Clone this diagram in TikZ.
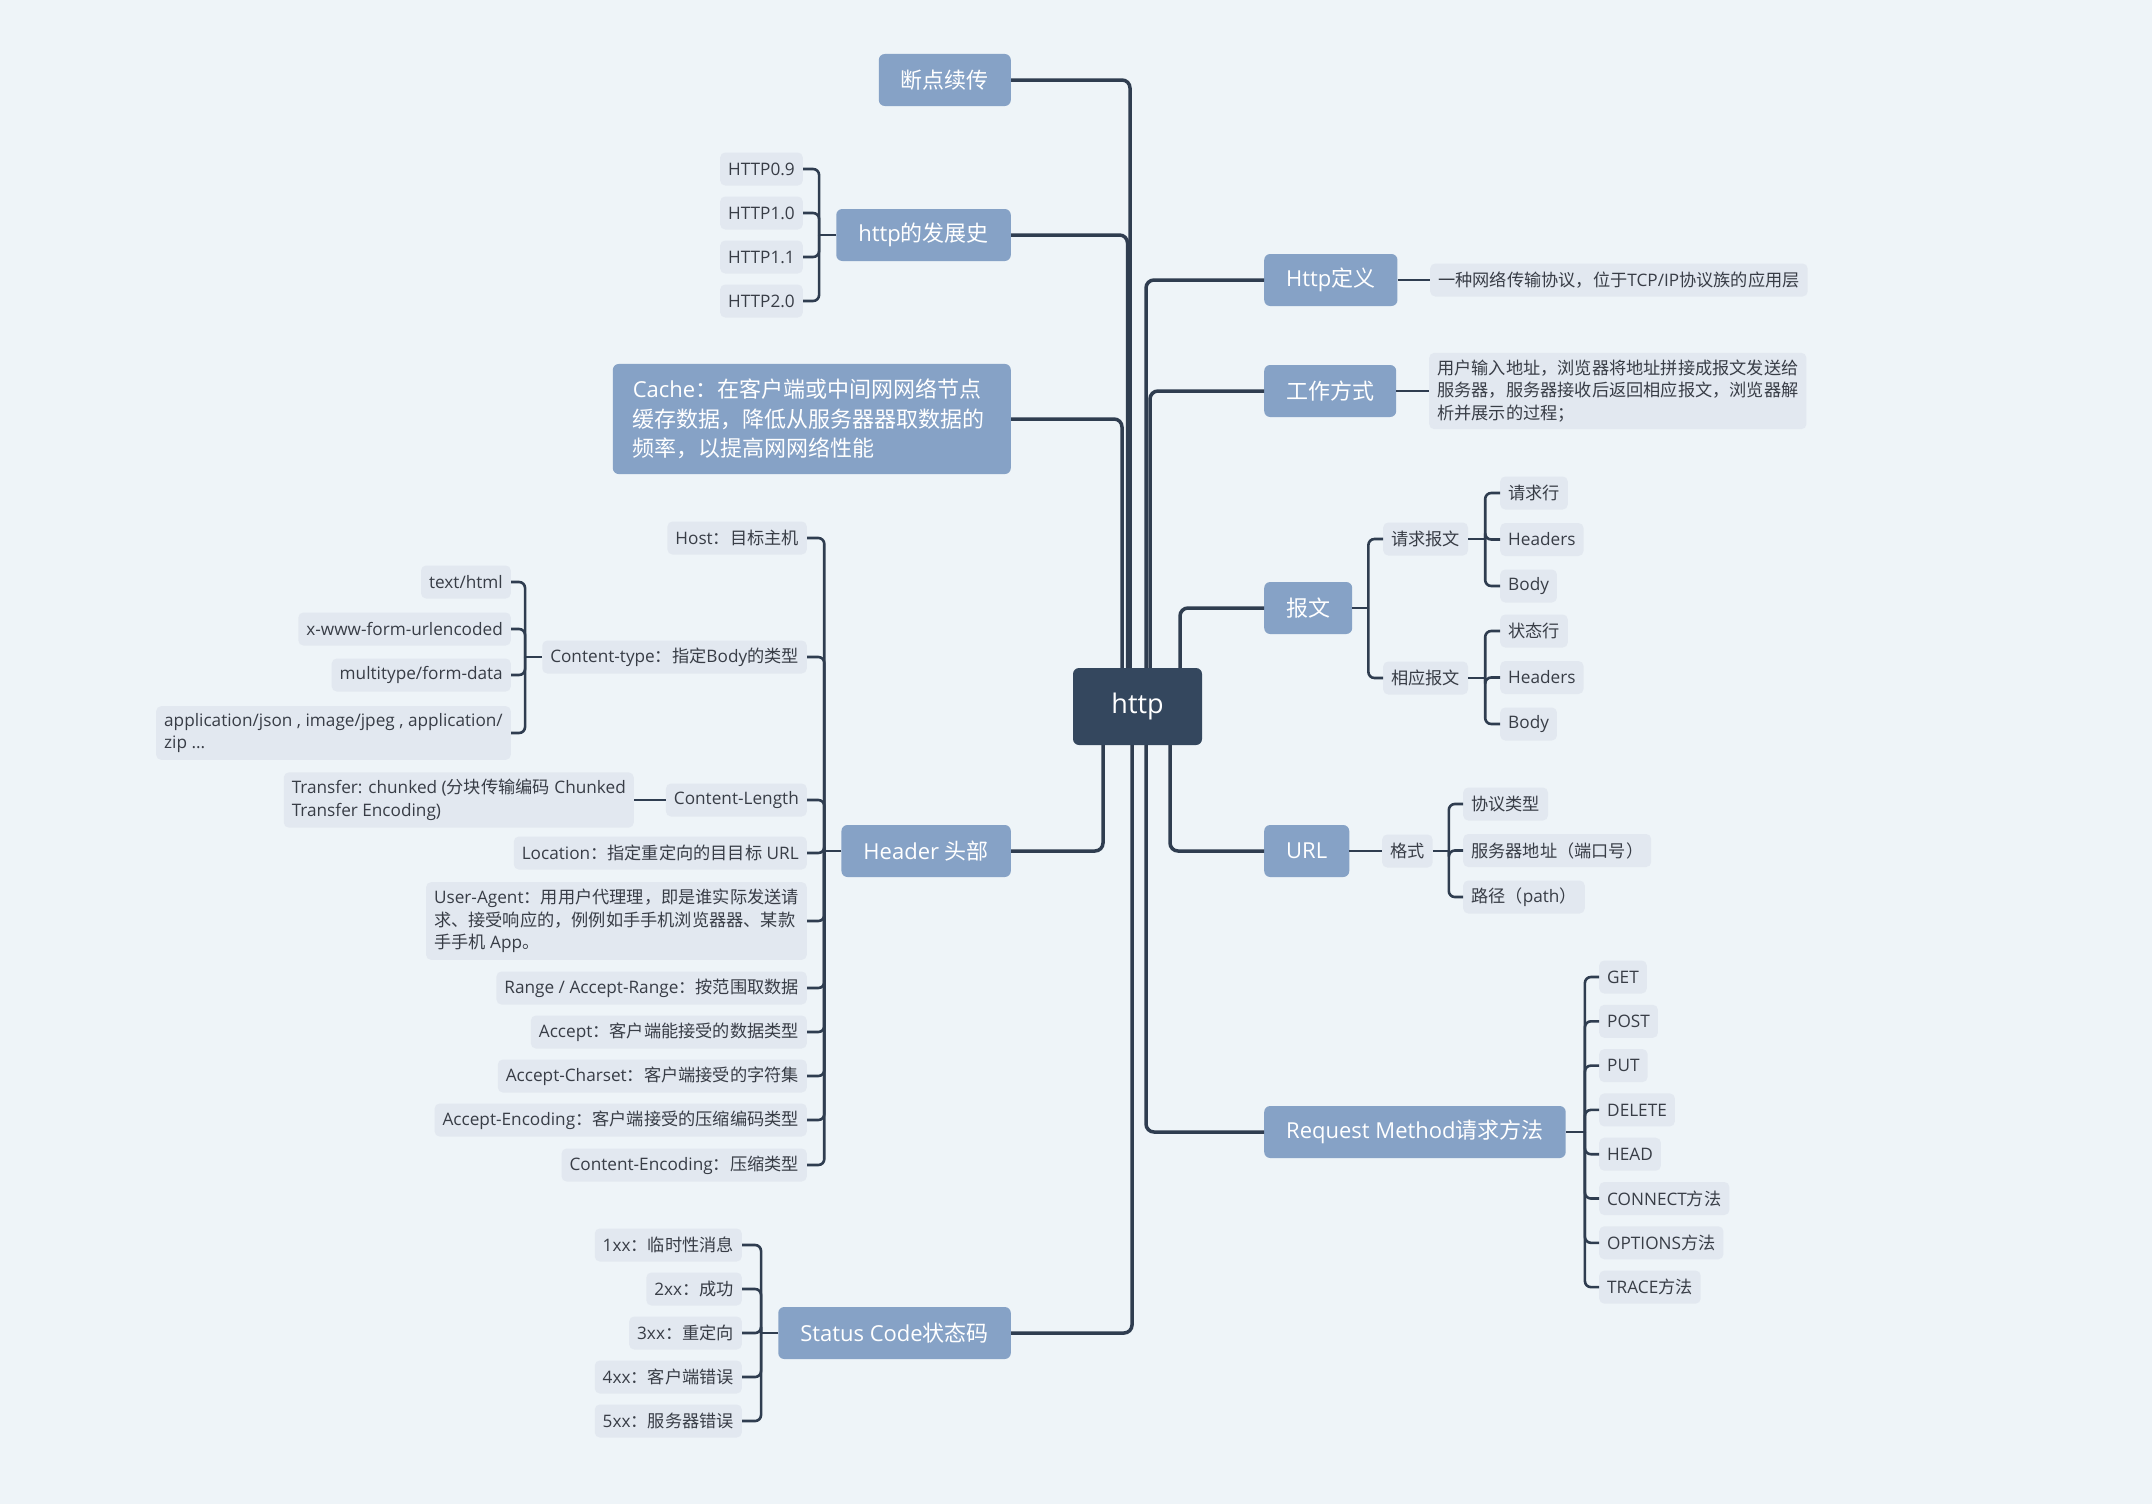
\documentclass[tikz,border=0pt]{standalone}
\usepackage{fontspec}
\setmainfont{Open Sans}
\newfontfamily\zhfont{Noto Sans CJK SC}

% switch to the CJK font for Chinese characters
\XeTeXinterchartokenstate=1
\newXeTeXintercharclass\zhclass
\newcount\zhcnt
\newcommand\zhrange[2]{\zhcnt=#1\relax
  \loop
    \XeTeXcharclass\zhcnt=\zhclass
    \ifnum\zhcnt<#2\relax
    \advance\zhcnt by 1
  \repeat}
\zhrange{"3000}{"303F}
\zhrange{"4E00}{"9FFF}
\zhrange{"FF00}{"FFEF}
\XeTeXinterchartoks 0 \zhclass = {\zhfont}
\XeTeXinterchartoks 4095 \zhclass = {\zhfont}
\XeTeXinterchartoks \zhclass 0 = {\rmfamily}
\XeTeXinterchartoks \zhclass 4095 = {\rmfamily}

\definecolor{bgc}{HTML}{EEF4F8}
\definecolor{rootc}{HTML}{34475E}
\definecolor{topicc}{HTML}{86A2C6}
\definecolor{leafc}{HTML}{E2E8F0}
\definecolor{linec}{HTML}{2F3D50}
\definecolor{textc}{HTML}{383D46}

\tikzset{
    rootbox/.style={fill=rootc,text=white,rounded corners=6pt,minimum width=129pt,minimum height=77pt,font=\fontsize{27}{32}\selectfont},
    topicbox/.style={fill=topicc,text=white,rounded corners=6pt,minimum height=52pt,inner xsep=22pt,font=\fontsize{22}{29.5}\selectfont},
    leafbox/.style={fill=leafc,text=textc,rounded corners=5pt,minimum height=33pt,inner xsep=8pt,inner ysep=7pt,font=\fontsize{17.2}{22.5}\selectfont},
    branch/.style={draw=linec,line width=3.5pt,rounded corners=8pt},
    twig/.style={draw=linec,line width=2.6pt,rounded corners=6pt}
}

\begin{document}
\begin{tikzpicture}[x=1pt,y=-1pt]
        \useasboundingbox (0,0) rectangle (2152,1504);
        \fill[bgc] (0,0) rectangle (2152,1504);

        % root
        \node[rootbox] (http) at (1137.5,706.5) {http};

        % left topics
        \node[topicbox,anchor=east] (dld) at (1011,80) {断点续传};
        \node[topicbox,anchor=east] (fzs) at (1011,235) {http的发展史};
        \node[topicbox,anchor=east,text width=358pt,align=left,inner xsep=20pt,inner ysep=15pt] (cache) at (1011,419) {Cache：在客户端或中间网网络节点\\缓存数据，降低从服务器器取数据的\\频率，以提高网网络性能};
        \node[topicbox,anchor=east] (hdr) at (1011,851) {Header 头部};
        \node[topicbox,anchor=east] (sc) at (1011,1333) {Status Code状态码};

        % right topics
        \node[topicbox,anchor=west] (def) at (1264,280) {Http定义};
        \node[topicbox,anchor=west] (gzfs) at (1264,391) {工作方式};
        \node[topicbox,anchor=west] (bw) at (1264,608) {报文};
        \node[topicbox,anchor=west] (url) at (1264,851) {URL};
        \node[topicbox,anchor=west] (rm) at (1264,1132) {Request Method请求方法};

        % branches from the root
        \draw[branch] ([xshift=-7.5pt]http.north) |- (dld.east);
        \draw[branch] ([xshift=-10pt]http.north) |- (fzs.east);
        \draw[branch] ([xshift=-15.5pt]http.north) |- (cache.east);
        \draw[branch] ([xshift=-34.5pt]http.south) |- (hdr.east);
        \draw[branch] ([xshift=-5.5pt]http.south) |- (sc.east);
        \draw[branch] ([xshift=8.5pt]http.north) |- (def.west);
        \draw[branch] ([xshift=12.5pt]http.north) |- (gzfs.west);
        \draw[branch] ([xshift=42.5pt]http.north) |- (bw.west);
        \draw[branch] ([xshift=32.5pt]http.south) |- (url.west);
        \draw[branch] ([xshift=8.5pt]http.south) |- (rm.west);

        % http versions
        \foreach \v [count=\i] in {HTTP0.9,HTTP1.0,HTTP1.1,HTTP2.0}
            \node[leafbox,anchor=east] (ver\i) at (803,{169+44*(\i-1)}) {\v};
        \coordinate (fzsj) at ([xshift=-17pt]fzs.west);
        \draw[twig] (fzs.west) -- (fzsj);
        \foreach \i in {1,...,4}
            \draw[twig] (fzsj) |- (ver\i.east);

        % header fields
        \node[leafbox,anchor=east] (host) at (807,538) {Host：目标主机};
        \node[leafbox,anchor=east] (ctype) at (807,657) {Content-type：指定Body的类型};
        \node[leafbox,anchor=east] (clen) at (807,800) {Content-Length};
        \node[leafbox,anchor=east] (loc) at (807,853) {Location：指定重定向的目目标 URL};
        \node[leafbox,anchor=east,align=left] (ua) at (807,921) {User-Agent：用用户代理理，即是谁实际发送请\\求、接受响应的，例例如手手机浏览器器、某款\\手手机 App。};
        \node[leafbox,anchor=east] (rng) at (807,988) {Range / Accept-Range：按范围取数据};
        \node[leafbox,anchor=east] (acc) at (807,1032) {Accept：客户端能接受的数据类型};
        \node[leafbox,anchor=east] (accs) at (807,1076) {Accept-Charset：客户端接受的字符集};
        \node[leafbox,anchor=east] (acce) at (807,1120) {Accept-Encoding：客户端接受的压缩编码类型};
        \node[leafbox,anchor=east] (cenc) at (807,1165) {Content-Encoding：压缩类型};
        \coordinate (hdrj) at ([xshift=-17pt]hdr.west);
        \draw[twig] (hdr.west) -- (hdrj);
        \foreach \n in {host,ctype,clen,loc,ua,rng,acc,accs,acce,cenc}
            \draw[twig] (hdrj) |- (\n.east);

        % content types
        \node[leafbox,anchor=east] (ct1) at (511,582) {text/html};
        \node[leafbox,anchor=east] (ct2) at (511,629) {x-www-form-urlencoded};
        \node[leafbox,anchor=east] (ct3) at (511,675) {multitype/form-data};
        \node[leafbox,anchor=east,align=left] (ct4) at (511,733) {application/json , image/jpeg , application/\\zip ...};
        \coordinate (ctypej) at ([xshift=-17pt]ctype.west);
        \draw[twig] (ctype.west) -- (ctypej);
        \foreach \i in {1,...,4}
            \draw[twig] (ctypej) |- (ct\i.east);

        \node[leafbox,anchor=east,align=left] (trans) at (634,800) {Transfer: chunked (分块传输编码 Chunked\\Transfer Encoding)};
        \draw[twig] (clen.west) -- (trans.east);

        % status codes
        \foreach \s [count=\i] in {1xx：临时性消息,2xx：成功,3xx：重定向,4xx：客户端错误,5xx：服务器错误}
            \node[leafbox,anchor=east] (st\i) at (742,{1245+44*(\i-1)}) {\s};
        \coordinate (scj) at ([xshift=-17pt]sc.west);
        \draw[twig] (sc.west) -- (scj);
        \foreach \i in {1,...,5}
            \draw[twig] (scj) |- (st\i.east);

        % definition and working
        \node[leafbox,anchor=west] (deftxt) at (1430,280) {一种网络传输协议，位于TCP/IP协议族的应用层};
        \draw[twig] (def.east) -- (deftxt.west);
        \node[leafbox,anchor=west,align=left] (gzfstxt) at (1429,391) {用户输入地址，浏览器将地址拼接成报文发送给\\服务器，服务器接收后返回相应报文，浏览器解\\析并展示的过程；};
        \draw[twig] (gzfs.east) -- (gzfstxt.west);

        % messages
        \node[leafbox,anchor=west] (req) at (1383,539) {请求报文};
        \node[leafbox,anchor=west] (resp) at (1383,678) {相应报文};
        \coordinate (bwj) at ([xshift=16pt]bw.east);
        \draw[twig] (bw.east) -- (bwj);
        \draw[twig] (bwj) |- (req.west);
        \draw[twig] (bwj) |- (resp.west);

        \foreach \p [count=\i] in {请求行,Headers,Body}
            \node[leafbox,anchor=west] (req\i) at (1500,{493+46.5*(\i-1)}) {\p};
        \foreach \p [count=\i] in {状态行,Headers,Body}
            \node[leafbox,anchor=west] (resp\i) at (1500,{631+46.5*(\i-1)}) {\p};
        \coordinate (reqj) at ([xshift=17pt]req.east);
        \coordinate (respj) at ([xshift=17pt]resp.east);
        \draw[twig] (req.east) -- (reqj);
        \draw[twig] (resp.east) -- (respj);
        \foreach \i in {1,2,3} {
            \draw[twig] (reqj) |- (req\i.west);
            \draw[twig] (respj) |- (resp\i.west);
        }

        % url format
        \node[leafbox,anchor=west] (fmt) at (1382,851) {格式};
        \draw[twig] (url.east) -- (fmt.west);
        \foreach \p [count=\i] in {协议类型,服务器地址（端口号）,路径（path）}
            \node[leafbox,anchor=west] (fmt\i) at (1463,{804+46.5*(\i-1)}) {\p};
        \coordinate (fmtj) at ([xshift=16pt]fmt.east);
        \draw[twig] (fmt.east) -- (fmtj);
        \foreach \i in {1,2,3}
            \draw[twig] (fmtj) |- (fmt\i.west);

        % request methods
        \foreach \m [count=\i] in {GET,POST,PUT,DELETE,HEAD,CONNECT方法,OPTIONS方法,TRACE方法}
            \node[leafbox,anchor=west] (rm\i) at (1599,{977+44.3*(\i-1)}) {\m};
        \coordinate (rmj) at ([xshift=19pt]rm.east);
        \draw[twig] (rm.east) -- (rmj);
        \foreach \i in {1,...,8}
            \draw[twig] (rmj) |- (rm\i.west);

\end{tikzpicture}
\end{document}
